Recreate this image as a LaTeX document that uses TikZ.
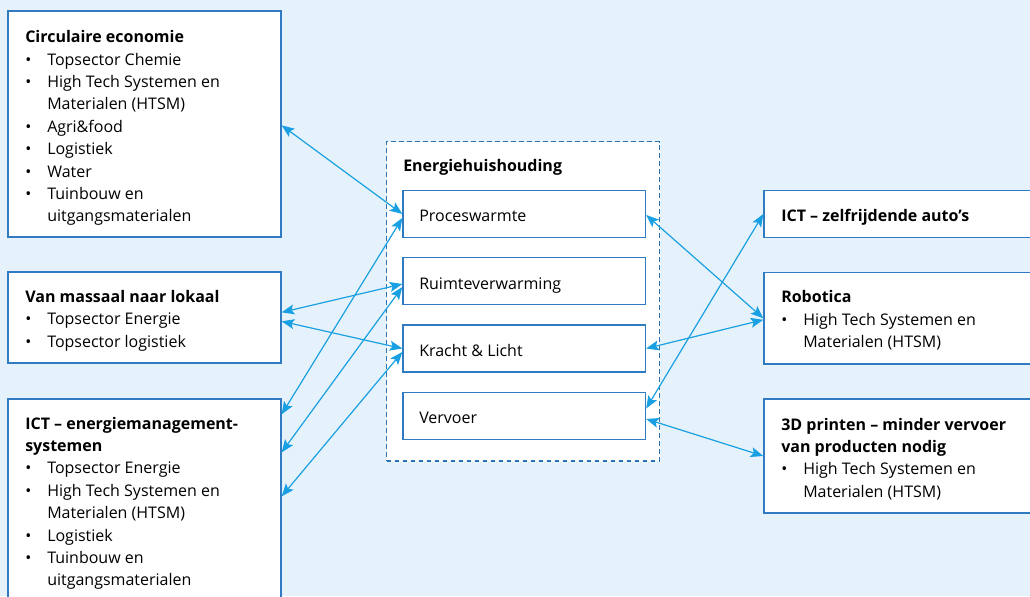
\documentclass[tikz,border=0pt]{standalone}
\usepackage{fontspec}
\setmainfont{Open Sans}
\usetikzlibrary{arrows.meta,fit,calc}
\definecolor{bg}{HTML}{E6F2FB}
\definecolor{boxline}{HTML}{2F7CC2}
\definecolor{arr}{HTML}{19A0E3}
\definecolor{dashc}{HTML}{2D73B3}
\newcommand\bul{\makebox[16.5pt][l]{•}}
\newcommand\cont{\hspace*{16.5pt}}
\newcommand\lines[1]{\begin{tabular}[t]{@{}l@{}}#1\end{tabular}}
\tikzset{
  box/.style={draw=boxline, line width=1pt, fill=white, inner sep=0pt},
  dashbox/.style={draw=dashc, line width=0.9pt, fill=white, inner sep=0pt, dash pattern=on 3.5pt off 2.5pt},
  txt/.style={anchor=base west, inner sep=0pt, font=\fontsize{12}{16.8}\selectfont, text=black},
  link/.style={draw=arr, line width=0.9pt, {Stealth[length=9.5pt,width=7.5pt,inset=2pt]}-{Stealth[length=9.5pt,width=7.5pt,inset=2pt]}},
}
\begin{document}
\begin{tikzpicture}[x=0.75pt,y=-0.75pt]
\useasboundingbox (0,0) rectangle (1030,596);
\clip (0,0) rectangle (1030,596);
\fill[bg] (0,0) rectangle (1030,596);

% left boxes
\node[box, fit={(8,11) (281,237)}] (circ) {};
\node[box, fit={(8,272) (281,363)}] (van) {};
\node[box, fit={(8,399) (281,620)}] (icte) {};
% centre
\node[dashbox, fit={(386.5,141.5) (659.5,461)}] (eh) {};
\node[box, fit={(403,190.5) (645.5,237.5)}] (pw) {};
\node[box, fit={(403,257.5) (645.5,304.5)}] (rv) {};
\node[box, fit={(403,325) (645.5,372)}] (kl) {};
\node[box, fit={(403,392.5) (645.5,439.5)}] (vv) {};
% right boxes
\node[box, fit={(764,190.5) (1045,237.5)}] (ictz) {};
\node[box, fit={(764,272.5) (1045,364)}] (rob) {};
\node[box, fit={(764,399) (1045,513)}] (td) {};

% texts
\node[txt] (tcirc) at (25,42.7) {\lines{\textbf{Circulaire economie}\\
\bul Topsector Chemie\\
\bul High Tech Systemen en\\
\cont Materialen (HTSM)\\
\bul Agri\&food\\
\bul Logistiek\\
\bul Water\\
\bul Tuinbouw en\\
\cont uitgangsmaterialen}};
\node[txt] (tvan) at (25,302.5) {\lines{\textbf{Van massaal naar lokaal}\\
\bul Topsector Energie\\
\bul Topsector logistiek}};
\node[txt] (ticte) at (25,429) {\lines{\textbf{ICT – energiemanagement-}\\
\textbf{systemen}\\
\bul Topsector Energie\\
\bul High Tech Systemen en\\
\cont Materialen (HTSM)\\
\bul Logistiek\\
\bul Tuinbouw en\\
\cont uitgangsmaterialen}};
\node[txt] (teh) at (403,171.7) {\textbf{Energiehuishouding}};
\node[txt] (tpw) at (419,221.7) {Proceswarmte};
\node[txt] (trv) at (419,289) {Ruimteverwarming};
\node[txt] (tkl) at (419,356) {Kracht \& Licht};
\node[txt] (tvv) at (419,423.3) {Vervoer};
\node[txt] (tictz) at (781,221.7) {\textbf{ICT – zelfrijdende auto’s}};
\node[txt] (trob) at (781,302.7) {\lines{\textbf{Robotica}\\
\bul High Tech Systemen en\\
\cont Materialen (HTSM)}};
\node[txt] (ttd) at (781,430) {\lines{\textbf{3D printen – minder vervoer}\\
\textbf{van producten nodig}\\
\bul High Tech Systemen en\\
\cont Materialen (HTSM)}};

% connectors
\draw[link] ($(circ.north east)+(0,115)$) -- (pw.west);
\draw[link] ($(van.north east)+(0,41)$) -- ($(rv.west)+(0,3)$);
\draw[link] ($(van.north east)+(0,50)$) -- (kl.west);
\draw[link] ($(icte.north east)+(0,16)$) -- ($(pw.west)+(0,4)$);
\draw[link] ($(icte.north east)+(0,54)$) -- ($(rv.west)+(0,6)$);
\draw[link] ($(icte.north east)+(0,98)$) -- ($(kl.west)+(0,3.5)$);
\draw[link] ($(pw.east)+(0,1)$) -- (rob.west);
\draw[link] (kl.east) -- ($(rob.west)+(0,1.5)$);
\draw[link] ($(vv.east)+(0,-7.5)$) -- (ictz.west);
\draw[link] ($(vv.east)+(0,3)$) -- (td.west);
\end{tikzpicture}
\end{document}
